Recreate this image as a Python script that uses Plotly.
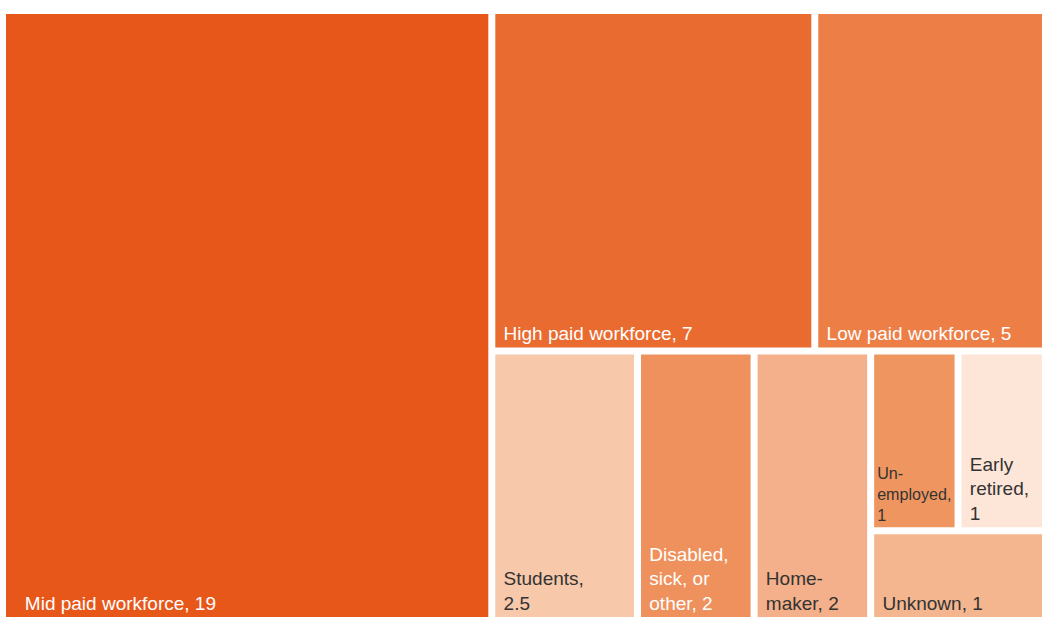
import plotly.graph_objects as go

NB = "\u00a0"  # non-breaking space used as a small left inset for labels

# Leaf categories and their values (millions)
leaf_ids = ["mid", "high", "low", "students", "disabled", "home",
            "unemployed", "early", "unknown"]
categories = [
    "Mid paid workforce, 19",
    "High paid workforce, 7",
    "Low paid workforce, 5",
    "Students,<br>2.5",
    "Disabled,<br>sick, or<br>other, 2",
    "Home-<br>maker, 2",
    "Un-<br>employed,<br>1",
    "Early<br>retired,<br>1",
    "Unknown, 1",
]
values = [19, 7, 5, 2.5, 2, 2, 1, 1, 1]
tile_colors = [
    "#E8571A", "#E96B2F", "#EC7E46",
    "#F7C8AA", "#EF915C", "#F3B08A",
    "#EF955F", "#FDE6D8", "#F4B68F",
]
text_colors = [
    "#ffffff", "#ffffff", "#ffffff",
    "#333333", "#ffffff", "#333333",
    "#333333", "#333333", "#333333",
]
# left inset (number of non-breaking spaces) per label
insets = [3, 1, 1, 1, 1, 1, 0, 1, 1]
leaf_parents = ["root", "rest_top", "rest_top", "rest_bottom", "rest_bottom",
                "rest_bottom", "small_top", "small_top", "small"]

# Grouping used to arrange the tiles (groups are drawn in white)
group_ids = ["root", "rest", "rest_top", "rest_bottom", "small", "small_top"]
group_parents = ["", "root", "rest", "rest", "rest_bottom", "small"]

# children are placed in the order they appear, so list nodes depth-first
node_order = ["root", "mid", "rest", "rest_top", "high", "low",
              "rest_bottom", "students", "disabled", "home",
              "small", "small_top", "unemployed", "early", "unknown"]


def inset_label(label, n):
    pad = NB * n
    return "<br>".join(pad + line for line in label.split("<br>"))


node = {}
for gid, gpar in zip(group_ids, group_parents):
    node[gid] = dict(parent=gpar, text="", value=0, color="#ffffff", tcolor="#ffffff")
for lid, lpar, cat, val, col, tcol, n in zip(leaf_ids, leaf_parents, categories,
                                             values, tile_colors, text_colors, insets):
    node[lid] = dict(parent=lpar, text=inset_label(cat, n), value=val, color=col, tcolor=tcol)

ids = node_order
parents = [node[i]["parent"] for i in ids]
texts = [node[i]["text"] for i in ids]
vals = [node[i]["value"] for i in ids]
colors = [node[i]["color"] for i in ids]
tcolors = [node[i]["tcolor"] for i in ids]

fig = go.Figure(go.Treemap(
    ids=ids,
    labels=ids,
    parents=parents,
    values=vals,
    text=texts,
    textinfo="text",
    branchvalues="remainder",
    sort=False,
    tiling=dict(packing="slice-dice", pad=7),
    marker=dict(
        colors=colors,
        line=dict(width=0),
        pad=dict(t=0, l=0, r=0, b=0),
        depthfade=False,
    ),
    textposition="bottom left",
    textfont=dict(family="Liberation Sans", size=19, color=tcolors),
    pathbar=dict(visible=False),
    hoverinfo="skip",
))

fig.update_layout(
    width=1042,
    height=617,
    margin=dict(l=6, r=0, t=14, b=0),
    paper_bgcolor="#ffffff",
)

fig.write_html("out.html")
